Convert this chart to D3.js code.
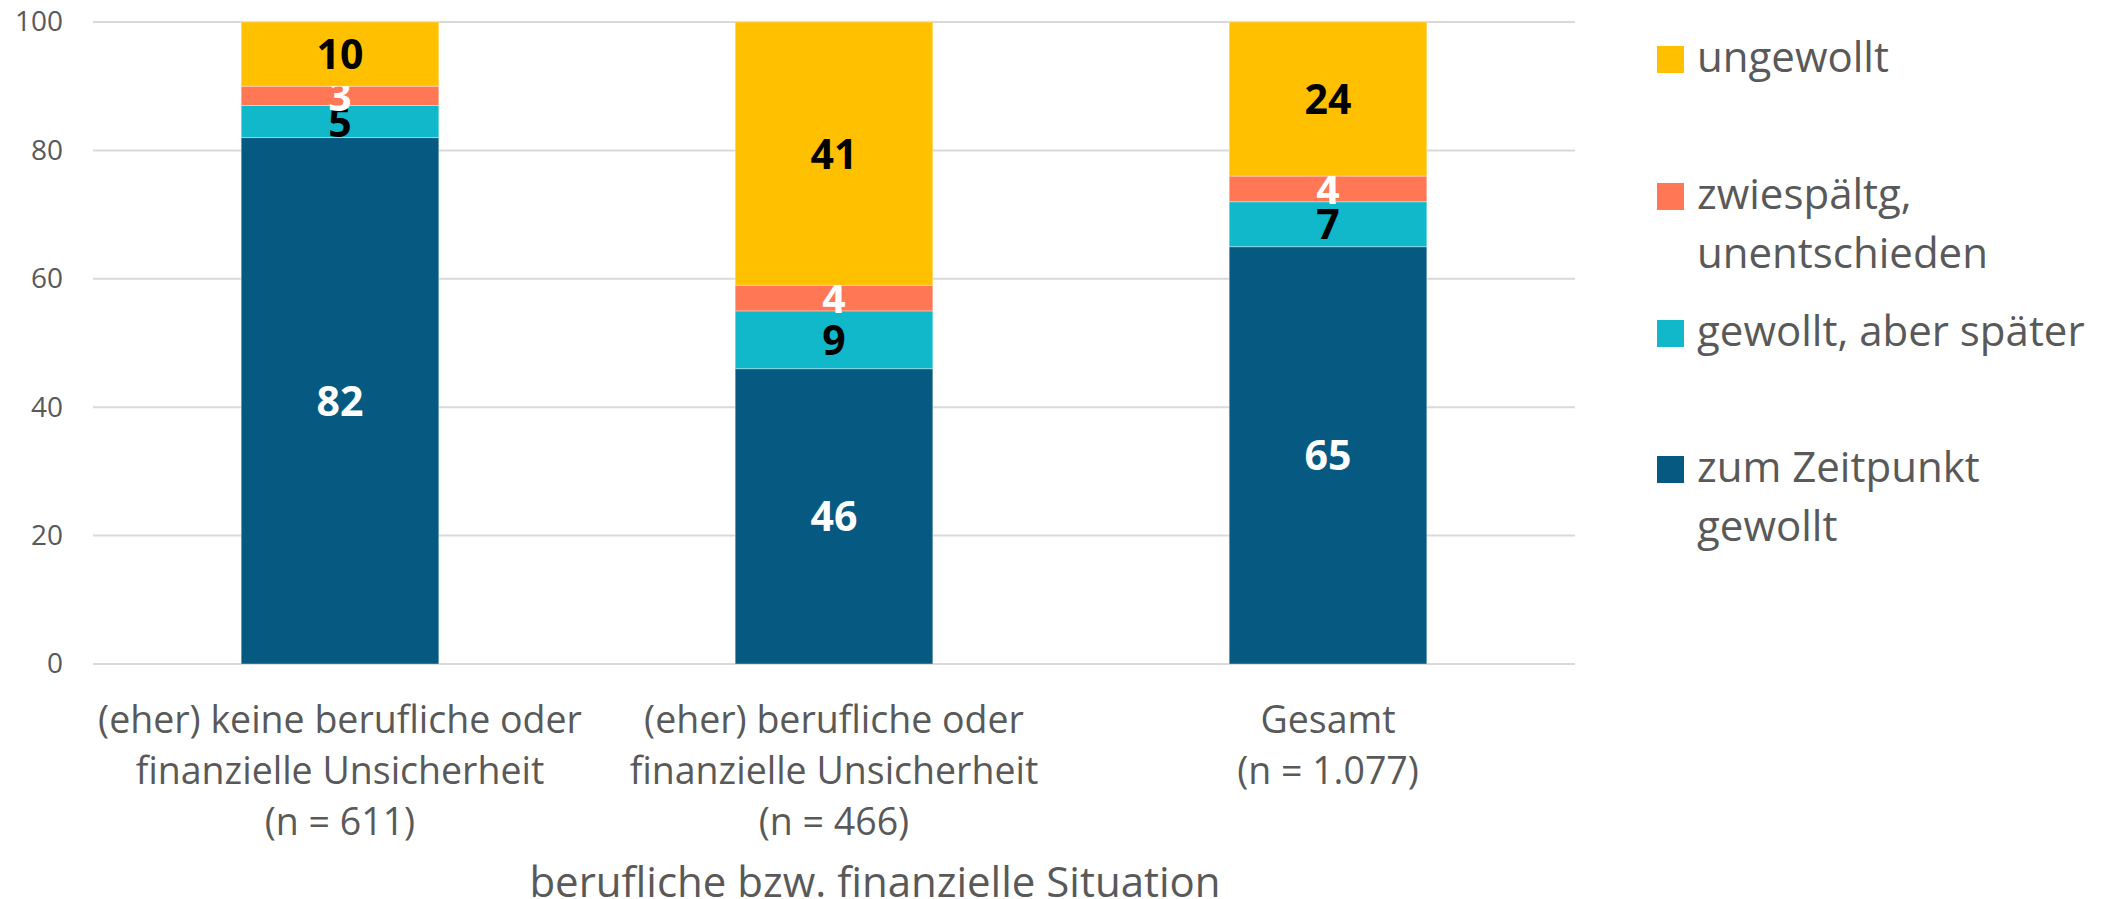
<!DOCTYPE html>
<html>
<head>
<meta charset="utf-8">
<script src="https://cdn.jsdelivr.net/npm/d3@7"></script>
<style>
  body { margin: 0; background: #fff; }
  text { font-family: "Open Sans", sans-serif; }
</style>
</head>
<body>
<script>
// data
const categories = ['(eher) keine berufliche oder|finanzielle Unsicherheit|(n = 611)',
                    '(eher) berufliche oder|finanzielle Unsicherheit|(n = 466)',
                    'Gesamt|(n = 1.077)']
const seriesNames = ['zum Zeitpunkt gewollt', 'gewollt, aber später', 'zwiespältg, unentschieden', 'ungewollt']
const legendLines = [['zum Zeitpunkt', 'gewollt'], ['gewollt, aber später'], ['zwiespältg,', 'unentschieden'], ['ungewollt']]
const zeitpunkt = [82, 46, 65]
const spaeter = [5, 9, 7]
const zwiespaeltig = [3, 4, 4]
const ungewollt = [10, 41, 24]
const yTicks = [0, 20, 40, 60, 80, 100]
const xTitle = 'berufliche bzw. finanzielle Situation'

const colors = ['#065a82', '#10b8ca', '#ff7754', '#ffc000']
const labelColors = ['#fff', '#000', '#fff', '#000']

const width = 2103
const height = 899
const margin = {top: 22, left: 93, right: 528, bottom: 235}
const innerWidth = width - margin.left - margin.right
const innerHeight = height - margin.top - margin.bottom

const svg = d3.select('body').append('svg').attr('width', width).attr('height', height)
const grp = svg.append('g').attr('transform', 'translate(' + margin.left + ',' + margin.top + ')')

const rows = categories.map((c, i) => ({
  cat: c, s0: zeitpunkt[i], s1: spaeter[i], s2: zwiespaeltig[i], s3: ungewollt[i]
}))
const stack = d3.stack().keys(['s0', 's1', 's2', 's3'])(rows)

const x = d3.scaleBand().domain(categories).range([0, innerWidth]).paddingInner(0.6).paddingOuter(0.3)
const y = d3.scaleLinear().domain([0, 100]).range([innerHeight, 0])

// gridlines
grp.append('g').selectAll('line').data(yTicks).enter().append('line')
  .attr('x1', 0).attr('x2', innerWidth)
  .attr('y1', d => y(d)).attr('y2', d => y(d))
  .attr('stroke', '#d9d9d9').attr('stroke-width', 2)

// y axis labels
const yAxis = grp.append('g').attr('transform', 'translate(-30,0)')
  .call(d3.axisLeft(y).tickValues(yTicks).tickSize(0).tickPadding(0))
yAxis.select('.domain').remove()
yAxis.selectAll('text').attr('font-size', 28).attr('fill', '#595959')
  .attr('font-family', '"Open Sans", sans-serif')

// bars
const layer = grp.selectAll('g.layer').data(stack).enter().append('g').attr('class', 'layer')
layer.selectAll('rect').data(d => d).enter().append('rect')
  .attr('x', d => x(d.data.cat))
  .attr('width', x.bandwidth())
  .attr('y', d => y(d[1]))
  .attr('height', d => y(d[0]) - y(d[1]))
  .attr('fill', function() { return colors[d3.select(this.parentNode).datum().index] })
  .attr('stroke', '#ffffff').attr('stroke-opacity', 0.35).attr('stroke-width', 1)

// value labels
layer.selectAll('text').data(d => d.map(v => ({v: v, k: d.index}))).enter().append('text')
  .attr('x', d => x(d.v.data.cat) + x.bandwidth() / 2)
  .attr('y', d => y((d.v[0] + d.v[1]) / 2) + 15)
  .attr('text-anchor', 'middle')
  .attr('font-size', 41).attr('font-weight', 700)
  .attr('fill', d => labelColors[d.k])
  .text(d => d.v[1] - d.v[0])

// category labels
const catG = grp.selectAll('g.cat').data(categories).enter().append('g').attr('class', 'cat')
  .attr('transform', d => 'translate(' + (x(d) + x.bandwidth() / 2) + ',' + (innerHeight + 69) + ')')
catG.selectAll('text').data(d => d.split('|')).enter().append('text')
  .attr('y', (d, i) => i * 51)
  .attr('text-anchor', 'middle')
  .attr('font-size', 37.5).attr('fill', '#595959')
  .text(d => d)

// axis title
svg.append('text')
  .attr('x', 875).attr('y', 897)
  .attr('text-anchor', 'middle')
  .attr('font-size', 42).attr('fill', '#595959')
  .text(xTitle)

// legend
const legendY = [469, 333, 196, 59]
const legend = svg.selectAll('g.legend').data(seriesNames).enter().append('g').attr('class', 'legend')
  .attr('transform', (d, i) => 'translate(1657,' + legendY[i] + ')')
legend.append('rect').attr('x', 0).attr('y', -13).attr('width', 27).attr('height', 27)
  .attr('fill', (d, i) => colors[i])
legend.each(function(d, i) {
  d3.select(this).selectAll('text').data(legendLines[i]).enter().append('text')
    .attr('x', 40).attr('y', (t, j) => j * 59 + 13)
    .attr('font-size', 42).attr('fill', '#595959')
    .text(t => t)
})
</script>
</body>
</html>
